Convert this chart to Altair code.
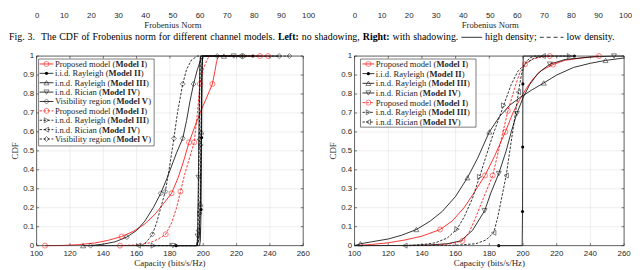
import altair as alt
import pandas as pd

# ---------------- axes ----------------
CAP_TICKS = [100, 120, 140, 160, 180, 200, 220, 240, 260]
CAP_LABELS = ["100", "120", "140", "160", "180", "200", "220", "240", "260"]
CDF_TICKS = [0, 0.1, 0.2, 0.3, 0.4, 0.5, 0.6, 0.7, 0.8, 0.9, 1]
CDF_LABELS = ["0", "0.1", "0.2", "0.3", "0.4", "0.5", "0.6", "0.7", "0.8", "0.9", "1"]
FROB_TICKS = [0, 10, 20, 30, 40, 50, 60, 70, 80, 90, 100]

# ---------------- left panel: no shadowing ----------------
L1H_X = [105, 115, 125, 135, 143, 151, 158, 165, 171, 176, 181, 185, 188, 191.5, 195, 199, 202, 205.5, 207, 208, 209, 234]
L1H_Y = [0, 0.001, 0.005, 0.014, 0.028, 0.048, 0.075, 0.115, 0.165, 0.22, 0.276, 0.36, 0.44, 0.545, 0.63, 0.72, 0.78, 0.853, 0.92, 0.97, 1, 1]
L1H_MX = [105, 151, 181, 191.5, 205.5, 234]
L1H_MY = [0, 0.048, 0.276, 0.545, 0.853, 1]

L1L_X = [150, 160, 168, 173, 177.5, 181, 184, 186.3, 189, 192, 194.6, 196.5, 198, 200, 202, 203.5, 239]
L1L_Y = [0, 0.004, 0.015, 0.035, 0.06, 0.12, 0.2, 0.285, 0.38, 0.47, 0.545, 0.7, 0.853, 0.93, 0.975, 1, 1]
L1L_MX = [150, 177.5, 186.3, 194.6, 198, 239]
L1L_MY = [0, 0.06, 0.285, 0.545, 0.853, 1]

L2_X = [183.7, 197.8, 198.3, 198.7, 199.0, 199.3, 199.6, 229.8]
L2_Y = [0, 0, 0.03, 0.19, 0.57, 0.9, 1, 1]
L2_MX = [183.7, 198.7, 199.0, 229.8]
L2_MY = [0, 0.19, 0.57, 1]

L3H_X = [127.9, 196, 197.5, 198.3, 198.8, 199.2, 199.6, 212.4]
L3H_Y = [0, 0, 0.03, 0.22, 0.6, 0.95, 1, 1]
L3H_MX = [127.9, 198.3, 198.8, 212.4]
L3H_MY = [0, 0.22, 0.6, 1]

L4H_X = [181.8, 196.3, 196.6, 197.1, 197.6, 198.0, 198.4, 218.3]
L4H_Y = [0, 0, 0.05, 0.36, 0.75, 0.97, 1, 1]
L4H_MX = [181.8, 196.6, 197.1, 218.3]
L4H_MY = [0, 0.05, 0.36, 1]

L5H_X = [132.4, 140, 147, 154.1, 160, 165, 170, 174.5, 178, 181, 184, 187.7, 190, 192, 194.2, 196.5, 198.5, 200, 245.6]
L5H_Y = [0, 0.008, 0.02, 0.045, 0.08, 0.13, 0.2, 0.276, 0.35, 0.42, 0.49, 0.566, 0.66, 0.76, 0.853, 0.93, 0.98, 1, 1]
L5H_MX = [132.4, 154.1, 174.5, 187.7, 194.2, 245.6]
L5H_MY = [0, 0.045, 0.276, 0.566, 0.853, 1]

L3L_X = [170, 196.5, 197.3, 198, 198.6, 199.1, 199.5, 225]
L3L_Y = [0, 0, 0.04, 0.17, 0.53, 0.9, 1, 1]
L3L_MX = [170, 198, 198.6, 225]
L3L_MY = [0, 0.17, 0.53, 1]

L4L_X = [161, 196, 196.8, 197.4, 197.9, 198.3, 222]
L4L_Y = [0, 0, 0.05, 0.4, 0.8, 1, 1]
L4L_MX = [161, 196.9, 197.6, 222]
L4L_MY = [0, 0.08, 0.56, 1]

L5L_X = [163, 166, 169.5, 172, 174.5, 177.2, 179.5, 182.4, 184.5, 187.7, 190, 193, 196.5, 251.7]
L5L_Y = [0, 0.02, 0.06, 0.12, 0.2, 0.285, 0.4, 0.566, 0.7, 0.853, 0.93, 0.98, 1, 1]
L5L_MX = [169.5, 177.2, 182.4, 187.7, 208.4, 251.7]
L5L_MY = [0.06, 0.285, 0.566, 0.853, 1, 1]

# ---------------- right panel: with shadowing ----------------
R1H_X = [100, 110, 120, 130, 140, 150.8, 158, 165, 171, 177.4, 183, 189.5, 194, 198, 202, 206, 211, 217.8, 225, 235, 245.1]
R1H_Y = [0, 0.006, 0.015, 0.03, 0.05, 0.085, 0.13, 0.2, 0.28, 0.37, 0.47, 0.6, 0.7, 0.77, 0.83, 0.88, 0.925, 0.955, 0.978, 0.99, 1]
R1H_MX = [150.8, 177.4, 189.5, 217.8, 245.1]
R1H_MY = [0.085, 0.37, 0.6, 0.955, 1]

R1L_X = [140, 150, 158, 164, 168, 172, 176, 182, 186, 191, 195, 198, 201.2, 206, 212, 215.9]
R1L_Y = [0, 0.004, 0.012, 0.025, 0.07, 0.15, 0.24, 0.37, 0.52, 0.71, 0.83, 0.91, 0.957, 0.985, 0.997, 1]
R1L_MX = [164, 182, 191, 201.2, 215.9]
R1L_MY = [0.025, 0.37, 0.71, 0.957, 1]

R2_X = [185.6, 199.5, 199.7, 199.8, 199.9, 200.1, 230.5]
R2_Y = [0, 0, 0.18, 0.52, 0.853, 1, 1]
R2_MX = [185.6, 199.7, 199.8, 199.9, 230.5]
R2_MY = [0, 0.18, 0.52, 0.853, 1]

R3H_X = [100, 103.5, 110, 120, 128, 136.7, 145, 152, 160, 167, 173, 180, 186, 192, 198, 205, 212.3, 220, 230, 240, 249, 260]
R3H_Y = [0, 0.01, 0.02, 0.035, 0.055, 0.085, 0.13, 0.18, 0.26, 0.358, 0.46, 0.6, 0.68, 0.74, 0.78, 0.82, 0.858, 0.9, 0.94, 0.962, 0.977, 0.99]
R3H_MX = [103.5, 136.7, 167, 180, 212.3, 249]
R3H_MY = [0.01, 0.085, 0.358, 0.6, 0.858, 0.977]

R4H_X = [100, 130, 145, 155, 163, 170, 177.2, 181, 185.6, 190, 193, 196.3, 200, 204, 209, 215.9, 225, 240, 254, 260]
R4H_Y = [0, 0.001, 0.004, 0.01, 0.025, 0.08, 0.184, 0.28, 0.38, 0.5, 0.6, 0.696, 0.78, 0.85, 0.91, 0.957, 0.982, 0.995, 1, 1]
R4H_MX = [177.2, 185.6, 196.3, 215.9, 254]
R4H_MY = [0.184, 0.38, 0.696, 0.957, 1]

R3L_X = [130, 140, 148, 155, 160.8, 165, 170, 174.2, 178, 182, 188.5, 193, 197, 202, 207, 212, 227.6]
R3L_Y = [0, 0.005, 0.015, 0.04, 0.087, 0.15, 0.25, 0.363, 0.47, 0.58, 0.74, 0.85, 0.92, 0.965, 0.99, 1, 1]
R3L_MX = [160.8, 174.2, 188.5, 227.6]
R3L_MY = [0.087, 0.363, 0.74, 1]

R4L_X = [129.9, 160, 172, 178, 182.6, 185, 187.5, 190, 193, 195.5, 197.3, 199, 201, 204, 207, 212]
R4L_Y = [0, 0.002, 0.01, 0.03, 0.068, 0.15, 0.26, 0.37, 0.55, 0.7, 0.81, 0.9, 0.96, 0.99, 1, 1]
R4L_MX = [129.9, 182.6, 190, 197.3, 212]
R4L_MY = [0, 0.068, 0.37, 0.81, 1]

# ---------------- texts ----------------
X_TITLE = "Capacity (bits/s/Hz)"
Y_TITLE = "CDF"
TOP_TITLE = "Frobenius Norm"
LEFT_LEGEND = [
    ("Proposed model (", "Model I", ")"),
    ("i.i.d. Rayleigh (", "Model II", ")"),
    ("i.n.d. Rayleigh (", "Model III", ")"),
    ("i.n.d. Rician (", "Model IV", ")"),
    ("Visibility region (", "Model V", ")"),
    ("Proposed model (", "Model I", ")"),
    ("i.n.d. Rayleigh (", "Model III", ")"),
    ("i.n.d. Rician (", "Model IV", ")"),
    ("Visibility region (", "Model V", ")"),
]
RIGHT_LEGEND = [
    ("Proposed model (", "Model I", ")"),
    ("i.i.d. Rayleigh (", "Model II", ")"),
    ("i.n.d. Rayleigh (", "Model III", ")"),
    ("i.n.d. Rician (", "Model IV", ")"),
    ("Proposed model (", "Model I", ")"),
    ("i.n.d. Rayleigh (", "Model III", ")"),
    ("i.n.d. Rician (", "Model IV", ")"),
]
CAPTION = [("Fig.", "n"), ("3.", "n"), ("The", "n"), ("CDF", "n"), ("of", "n"),
           ("Frobenius", "n"), ("norm", "n"), ("for", "n"), ("different", "n"),
           ("channel", "n"), ("models.", "n"), ("Left:", "b"), ("no", "n"),
           ("shadowing,", "n"), ("Right:", "b"), ("with", "n"), ("shadowing.", "n"),
           ("", "solid"), ("high", "n"), ("density;", "n"), ("", "dash"),
           ("low", "n"), ("density.", "n")]

INK = "#262626"
GRID = "#e2e2e2"
RED = "#ff0000"
BLK = "#000000"
SERIF = "Liberation Serif"
SANS = "Liberation Sans"

# Times metrics (Liberation Serif is metric compatible)
TR = dict(zip("ABCDEFGHIJKLMNOPQRSTUVWXYZ", [722, 667, 667, 722, 611, 556, 722, 722, 333, 389, 722, 611, 889, 722, 722, 556, 722, 667, 556, 611, 722, 722, 944, 722, 722, 611]))
TR.update(zip("abcdefghijklmnopqrstuvwxyz", [444, 500, 444, 500, 444, 333, 500, 500, 278, 278, 500, 278, 778, 500, 500, 500, 500, 333, 389, 278, 500, 500, 722, 500, 500, 444]))
TR.update({" ": 250, "(": 333, ")": 333, ".": 250, ",": 250, ":": 278, ";": 278, "/": 278, "-": 333})
TB = dict(zip("ABCDEFGHIJKLMNOPQRSTUVWXYZ", [722, 667, 722, 722, 667, 611, 778, 778, 389, 500, 778, 667, 944, 722, 778, 611, 778, 722, 556, 667, 722, 722, 1000, 722, 722, 667]))
TB.update(zip("abcdefghijklmnopqrstuvwxyz", [500, 556, 444, 556, 444, 333, 500, 556, 278, 333, 556, 278, 833, 556, 500, 556, 556, 444, 389, 333, 556, 500, 722, 500, 500, 444]))
TB.update({" ": 250, "(": 333, ")": 333, ".": 250, ",": 250, ":": 333, ";": 333})


def tw(s, bold, fs):
    tab = TB if bold else TR
    return sum(tab.get(c, 500) for c in s) * fs / 1000.0


def curve(cid, xs, ys, mxs, mys, color, dash, shape, filled):
    return dict(id=cid, x=xs, y=ys, mx=mxs, my=mys, color=color, dash=dash, shape=shape, filled=filled)


LEFT_CURVES = [
    curve("L1H", L1H_X, L1H_Y, L1H_MX, L1H_MY, RED, False, "circle", False),
    curve("L2", L2_X, L2_Y, L2_MX, L2_MY, BLK, False, "circle", True),
    curve("L3H", L3H_X, L3H_Y, L3H_MX, L3H_MY, BLK, False, "triangle-up", False),
    curve("L4H", L4H_X, L4H_Y, L4H_MX, L4H_MY, BLK, False, "triangle-down", False),
    curve("L5H", L5H_X, L5H_Y, L5H_MX, L5H_MY, BLK, False, "diamond", False),
    curve("L1L", L1L_X, L1L_Y, L1L_MX, L1L_MY, RED, True, "circle", False),
    curve("L3L", L3L_X, L3L_Y, L3L_MX, L3L_MY, BLK, True, "triangle-right", False),
    curve("L4L", L4L_X, L4L_Y, L4L_MX, L4L_MY, BLK, True, "triangle-left", False),
    curve("L5L", L5L_X, L5L_Y, L5L_MX, L5L_MY, BLK, True, "diamond", False),
]
RIGHT_CURVES = [
    curve("R1H", R1H_X, R1H_Y, R1H_MX, R1H_MY, RED, False, "circle", False),
    curve("R2", R2_X, R2_Y, R2_MX, R2_MY, BLK, False, "circle", True),
    curve("R3H", R3H_X, R3H_Y, R3H_MX, R3H_MY, BLK, False, "triangle-up", False),
    curve("R4H", R4H_X, R4H_Y, R4H_MX, R4H_MY, BLK, False, "triangle-down", False),
    curve("R1L", R1L_X, R1L_Y, R1L_MX, R1L_MY, RED, True, "circle", False),
    curve("R3L", R3L_X, R3L_Y, R3L_MX, R3L_MY, BLK, True, "triangle-right", False),
    curve("R4L", R4L_X, R4L_Y, R4L_MX, R4L_MY, BLK, True, "triangle-left", False),
]

DASH = [2.5, 1.5]
MSIZE = 26
LEG_FS = 8.7
TITLE_FS = 9


def panel(curves, legend, W, H, box, seg, row0, step):
    # pixel offsets inside the plot -> data units, so everything goes through the scales
    dx = lambda p: 100 + p / W * 160.0
    dy = lambda p: 1 - p / H

    lrows, mrows = [], []
    for c in curves:
        for i, (x, y) in enumerate(zip(c["x"], c["y"])):
            lrows.append({"cid": c["id"], "i": i, "x": x, "y": y, "col": c["color"], "dash": c["dash"]})
        for x, y in zip(c["mx"], c["my"]):
            mrows.append({"cid": c["id"], "x": x, "y": y, "col": c["color"], "shp": c["shape"], "filled": c["filled"]})
    ldf = pd.DataFrame(lrows)
    mdf = pd.DataFrame(mrows)

    xs = alt.Scale(domain=[100, 260], nice=False, zero=False)
    ys = alt.Scale(domain=[0, 1], nice=False, zero=False)
    X = lambda f: alt.X(f, scale=xs, axis=None)
    Y = lambda f: alt.Y(f, scale=ys, axis=None)
    C = alt.Color("col:N", scale=None)

    xt = pd.DataFrame({"x": CAP_TICKS, "lab": CAP_LABELS})
    yt = pd.DataFrame({"y": CDF_TICKS, "lab": CDF_LABELS})
    one = pd.DataFrame({"k": [0]})

    grid_x = alt.Chart(xt).mark_rule(color=GRID, strokeWidth=0.6).encode(
        x=X("x:Q"), y=alt.value(0), y2=alt.value(H))
    grid_y = alt.Chart(yt).mark_rule(color=GRID, strokeWidth=0.6).encode(
        y=Y("y:Q"), x=alt.value(0), x2=alt.value(W))

    solid = alt.Chart(ldf[~ldf["dash"]]).mark_line(strokeWidth=0.8).encode(
        x=X("x:Q"), y=Y("y:Q"), color=C, detail="cid:N", order="i:Q")
    dashed = alt.Chart(ldf[ldf["dash"]]).mark_line(strokeWidth=0.8, strokeDash=DASH).encode(
        x=X("x:Q"), y=Y("y:Q"), color=C, detail="cid:N", order="i:Q")
    open_m = alt.Chart(mdf[~mdf["filled"]]).mark_point(filled=False, size=MSIZE, strokeWidth=0.7).encode(
        x=X("x:Q"), y=Y("y:Q"), shape=alt.Shape("shp:N", scale=None), color=C)
    fill_m = alt.Chart(mdf[mdf["filled"]]).mark_point(filled=True, size=10, opacity=1).encode(
        x=X("x:Q"), y=Y("y:Q"), color=C)

    ticks = [
        alt.Chart(xt).mark_rule(color=INK, strokeWidth=0.6).encode(
            x=X("x:Q"), y=alt.value(H), y2=alt.value(H - 2.5)),
        alt.Chart(xt).mark_rule(color=INK, strokeWidth=0.6).encode(
            x=X("x:Q"), y=alt.value(0), y2=alt.value(2.5)),
        alt.Chart(yt).mark_rule(color=INK, strokeWidth=0.6).encode(
            y=Y("y:Q"), x=alt.value(0), x2=alt.value(2.5)),
        alt.Chart(yt).mark_rule(color=INK, strokeWidth=0.6).encode(
            y=Y("y:Q"), x=alt.value(W), x2=alt.value(W - 2.5)),
    ]
    frame = alt.Chart(one).mark_rect(fillOpacity=0, stroke=INK, strokeWidth=0.7).encode(
        x=alt.value(0), x2=alt.value(W), y=alt.value(0), y2=alt.value(H))

    xlab = alt.Chart(xt).mark_text(align="center", baseline="top", font=SANS, fontSize=8, color=INK).encode(
        x=X("x:Q"), y=alt.value(H + 4), text="lab:N")
    ylab = alt.Chart(yt).mark_text(align="right", baseline="middle", font=SANS, fontSize=8, color=INK).encode(
        y=Y("y:Q"), x=alt.value(-2.5), text="lab:N")
    xtitle = alt.Chart(pd.DataFrame({"t": [X_TITLE]})).mark_text(
        align="center", baseline="top", font=SERIF, fontSize=TITLE_FS, color=INK).encode(
        x=alt.value(W / 2.0), y=alt.value(H + 13.5), text="t:N")
    ytitle = alt.Chart(pd.DataFrame({"t": [Y_TITLE]})).mark_text(
        align="center", baseline="middle", font=SERIF, fontSize=TITLE_FS, color=INK, angle=270).encode(
        x=alt.value(-21.5), y=alt.value(H / 2.0), text="t:N")

    # legend (positions converted to data units)
    bx0, bx1, by0, by1 = box
    legbox = alt.Chart(one).mark_rect(fill="white", stroke=INK, strokeWidth=0.6).encode(
        x=alt.value(bx0), x2=alt.value(bx1), y=alt.value(by0), y2=alt.value(by1))
    grows, trows = [], []
    for k, (c, (t1, t2, t3)) in enumerate(zip(curves, legend)):
        yk = dy(row0 + k * step)
        grows.append({"x": dx(seg[0]), "x1": dx(seg[1]), "mx": dx((seg[0] + seg[1]) / 2.0), "y": yk,
                      "col": c["color"], "dash": c["dash"], "shp": c["shape"], "filled": c["filled"]})
        tx = seg[2]
        trows.append({"x": dx(tx), "y": yk, "t": t1, "b": False})
        tx += tw(t1, False, LEG_FS)
        trows.append({"x": dx(tx), "y": yk, "t": t2, "b": True})
        tx += tw(t2, True, LEG_FS)
        trows.append({"x": dx(tx), "y": yk, "t": t3, "b": False})
    gdf = pd.DataFrame(grows)
    tdf = pd.DataFrame(trows)
    leg_solid = alt.Chart(gdf[~gdf["dash"]]).mark_rule(strokeWidth=0.8).encode(
        x=X("x:Q"), x2="x1:Q", y=Y("y:Q"), color=C)
    leg_dash = alt.Chart(gdf[gdf["dash"]]).mark_rule(strokeWidth=0.8, strokeDash=DASH).encode(
        x=X("x:Q"), x2="x1:Q", y=Y("y:Q"), color=C)
    leg_open = alt.Chart(gdf[~gdf["filled"]]).mark_point(filled=False, size=MSIZE, strokeWidth=0.7).encode(
        x=X("mx:Q"), y=Y("y:Q"), shape=alt.Shape("shp:N", scale=None), color=C)
    leg_fill = alt.Chart(gdf[gdf["filled"]]).mark_point(filled=True, size=10, opacity=1).encode(
        x=X("mx:Q"), y=Y("y:Q"), color=C)
    leg_tn = alt.Chart(tdf[~tdf["b"]]).mark_text(align="left", baseline="middle", font=SERIF,
                                                  fontSize=LEG_FS, color=INK).encode(
        x=X("x:Q"), y=Y("y:Q"), text="t:N")
    leg_tb = alt.Chart(tdf[tdf["b"]]).mark_text(align="left", baseline="middle", font=SERIF,
                                                 fontSize=LEG_FS, fontWeight="bold", color=INK).encode(
        x=X("x:Q"), y=Y("y:Q"), text="t:N")

    return alt.layer(grid_x, grid_y, solid, dashed, open_m, fill_m, *ticks, frame,
                     xlab, ylab, xtitle, ytitle,
                     legbox, leg_solid, leg_dash, leg_open, leg_fill, leg_tn, leg_tb
                     ).properties(width=W, height=H)


PH = 192
left = panel(LEFT_CURVES, LEFT_LEGEND, 270, PH, (2, 119, 3, 91), (3, 17, 18.5), 8, 9.5)
right = panel(RIGHT_CURVES, RIGHT_LEGEND, 273, PH, (6, 123, 3, 72), (8, 20, 21.5), 8, 9.8)


def top_strip(W):
    return alt.Chart(pd.DataFrame({"v": FROB_TICKS})).mark_point(opacity=0, size=1).encode(
        x=alt.X("v:Q", scale=alt.Scale(domain=[0, 100], nice=False, zero=False),
                axis=alt.Axis(values=FROB_TICKS, format="d", domain=False, ticks=False, grid=False,
                              labelFont=SANS, labelFontSize=8, labelColor=INK, labelPadding=1,
                              labelFlush=False, labelOverlap=False,
                              title=TOP_TITLE, titleFont=SERIF, titleFontSize=8.8,
                              titleFontWeight="normal", titleColor=INK, titlePadding=1)),
        y=alt.value(1)
    ).properties(width=W, height=1)


# caption, justified
CAP_FS = 10.0
SYM_W = {"solid": 21.0, "dash": 24.0}
widths = []
for t, st in CAPTION:
    if st in SYM_W:
        widths.append(SYM_W[st])
    else:
        widths.append(tw(t, st == "b", CAP_FS))
gap_units = [2 if k == 1 else 1 for k in range(len(CAPTION) - 1)]
space = 250 * CAP_FS / 1000.0
natural = sum(widths) + space * sum(gap_units)
x_start, x_end = -28.0, 586.0
extra = (x_end - x_start - natural) / sum(gap_units)
crow, srow = [], []
xc = x_start
for k, ((t, st), w) in enumerate(zip(CAPTION, widths)):
    if st in SYM_W:
        srow.append({"x0": xc, "x1": xc + w, "dash": st == "dash"})
    else:
        crow.append({"tx": xc, "t": t, "b": st == "b"})
    if k < len(gap_units):
        xc += w + (space + extra) * gap_units[k]
cdf_ = pd.DataFrame(crow)
sdf_ = pd.DataFrame(srow)
CAP_Y = 17
cap_n = alt.Chart(cdf_[~cdf_["b"]]).mark_text(align="left", baseline="middle", font=SERIF,
                                              fontSize=CAP_FS, color="black").encode(
    x=alt.X("tx:Q", scale=None, axis=None), y=alt.value(CAP_Y), text="t:N")
cap_b = alt.Chart(cdf_[cdf_["b"]]).mark_text(align="left", baseline="middle", font=SERIF,
                                             fontSize=CAP_FS, fontWeight="bold", color="black").encode(
    x=alt.X("tx:Q", scale=None, axis=None), y=alt.value(CAP_Y), text="t:N")
cap_s = alt.Chart(sdf_[~sdf_["dash"]]).mark_rule(color="black", strokeWidth=0.8).encode(
    x=alt.X("x0:Q", scale=None, axis=None), x2="x1:Q", y=alt.value(CAP_Y))
cap_d = alt.Chart(sdf_[sdf_["dash"]]).mark_rule(color="black", strokeWidth=0.8, strokeDash=[4, 3]).encode(
    x=alt.X("x0:Q", scale=None, axis=None), x2="x1:Q", y=alt.value(CAP_Y))
capL = alt.layer(cap_n, cap_b, cap_s, cap_d).properties(width=270, height=26)
capR = alt.Chart(pd.DataFrame({"k": [0]})).mark_point(opacity=0, size=1).encode(
    x=alt.value(1), y=alt.value(13)).properties(width=273, height=26)

chart = alt.concat(top_strip(275), top_strip(274), capL, capR, left, right,
                   columns=2, spacing={"row": 10, "column": 47},
                   bounds="flush", align="each").properties(
    padding={"left": 1, "top": 0, "right": 0, "bottom": 0}
).configure_view(strokeWidth=0)

chart.save("out.html", embed_options={"renderer": "svg", "actions": False})
